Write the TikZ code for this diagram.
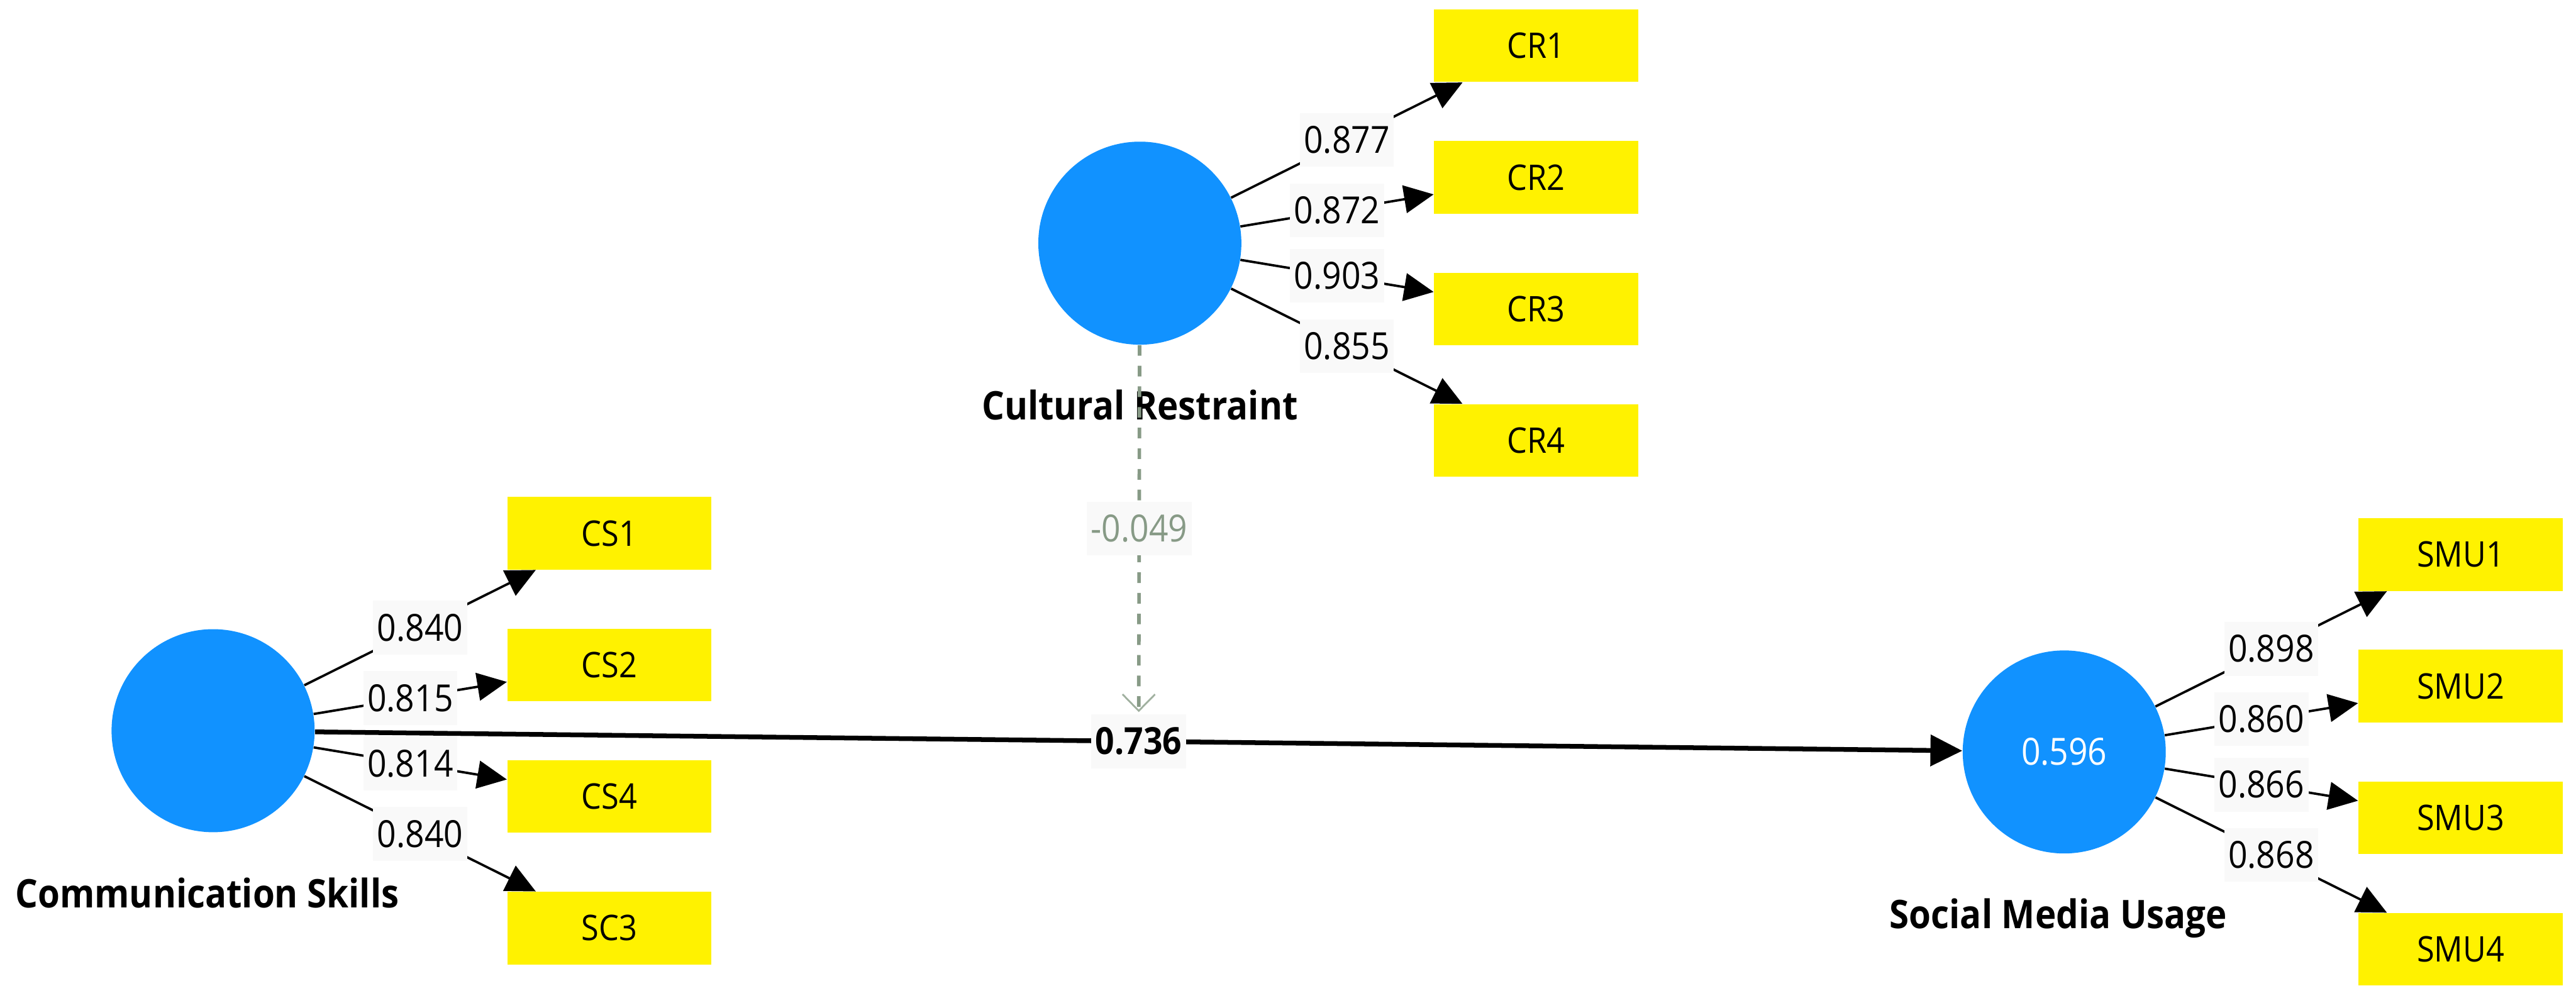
\documentclass[tikz,border=0pt]{standalone}
\usepackage{fontspec}
\setmainfont{Open Sans}[FakeStretch=0.9]
\usetikzlibrary{arrows.meta, positioning}

\definecolor{constructblue}{HTML}{1192FF}
\definecolor{lblgray}{HTML}{F9F9F9}
\definecolor{modgreen}{HTML}{879A86}
\definecolor{modtip}{HTML}{A0B09F}

\begin{document}
\begin{tikzpicture}[
  node distance = 3.25cm,
  construct/.style = {
    circle, fill=constructblue, minimum size=3.44cm, inner sep=0pt,
    text=white, font=\fontsize{18}{20}\selectfont
  },
  indicator/.style = {
    rectangle, fill=yellow, minimum width=3.46cm, minimum height=1.23cm,
    inner sep=0pt, font=\fontsize{17}{19}\selectfont
  },
  cname/.style = {
    inner sep=0pt, text height=0.5cm, text depth=0.14cm,
    font=\fontsize{19}{21}\selectfont\bfseries
  },
  weight/.style = {
    fill=lblgray, inner xsep=0.07cm, inner ysep=0.23cm,
    text height=0.45cm, text depth=0pt, font=\fontsize{18}{20}\selectfont
  },
  loading/.style = {
    -{Triangle[length=0.5cm, width=0.47cm]}, line width=0.04cm, draw=black
  },
  effect/.style = {
    -{Triangle[length=0.54cm, width=0.52cm]}, line width=0.08cm
  },
  moderation/.style = {
    draw=modgreen, line width=0.06cm, dash pattern=on 0.18cm off 0.17cm,
    -{Straight Barb[length=0.28cm, width=0.55cm, line width=0.03cm, color=modtip]}
  }
]
\useasboundingbox (0,0) rectangle (43.64,16.99);

% ====== CONSTRUCTS ======
\node[construct] (cs) at (3.61,4.61) {};
\node[construct] (cr) at (19.31,12.87) {};
\node[construct] (smu) at (34.97,4.25) {0.596};

\node[cname, below=0.76cm of cs, xshift=-1mm] (csname) {Communication Skills};
\node[cname, below=0.76cm of cr] (crname) {Cultural Restraint};
\node[cname, below=0.76cm of smu, xshift=-1mm] (smuname) {Social Media Usage};

% ====== INDICATORS ======
% Communication Skills
\node[indicator, right=of cs, yshift=3.345cm] (cs1) {CS1};
\node[indicator, right=of cs, yshift=1.115cm] (cs2) {CS2};
\node[indicator, right=of cs, yshift=-1.115cm] (cs4) {CS4};
\node[indicator, right=of cs, yshift=-3.345cm] (sc3) {SC3};

% Cultural Restraint
\node[indicator, right=of cr, yshift=3.345cm] (cr1) {CR1};
\node[indicator, right=of cr, yshift=1.115cm] (cr2) {CR2};
\node[indicator, right=of cr, yshift=-1.115cm] (cr3) {CR3};
\node[indicator, right=of cr, yshift=-3.345cm] (cr4) {CR4};

% Social Media Usage
\node[indicator, right=of smu, yshift=3.345cm] (smu1) {SMU1};
\node[indicator, right=of smu, yshift=1.115cm] (smu2) {SMU2};
\node[indicator, right=of smu, yshift=-1.115cm] (smu3) {SMU3};
\node[indicator, right=of smu, yshift=-3.345cm] (smu4) {SMU4};

% ====== OUTER LOADINGS ======
\draw[loading] (cs) -- node[weight] {0.840} (cs1);
\draw[loading] (cs) -- node[weight] {0.815} (cs2);
\draw[loading] (cs) -- node[weight] {0.814} (cs4);
\draw[loading] (cs) -- node[weight] {0.840} (sc3);

\draw[loading] (cr) -- node[weight] {0.877} (cr1);
\draw[loading] (cr) -- node[weight] {0.872} (cr2);
\draw[loading] (cr) -- node[weight] {0.903} (cr3);
\draw[loading] (cr) -- node[weight] {0.855} (cr4);

\draw[loading] (smu) -- node[weight] {0.898} (smu1);
\draw[loading] (smu) -- node[weight] {0.860} (smu2);
\draw[loading] (smu) -- node[weight] {0.866} (smu3);
\draw[loading] (smu) -- node[weight] {0.868} (smu4);

% ====== PATHS ======
% direct effect
\draw[effect] (cs) -- node[weight, font=\fontsize{18}{20}\selectfont\bfseries] (pc) {0.736} (smu);

% moderating effect onto the path coefficient
\draw[moderation] (cr) -- node[weight, text=modgreen] {-0.049} (pc);

\end{tikzpicture}
\end{document}
